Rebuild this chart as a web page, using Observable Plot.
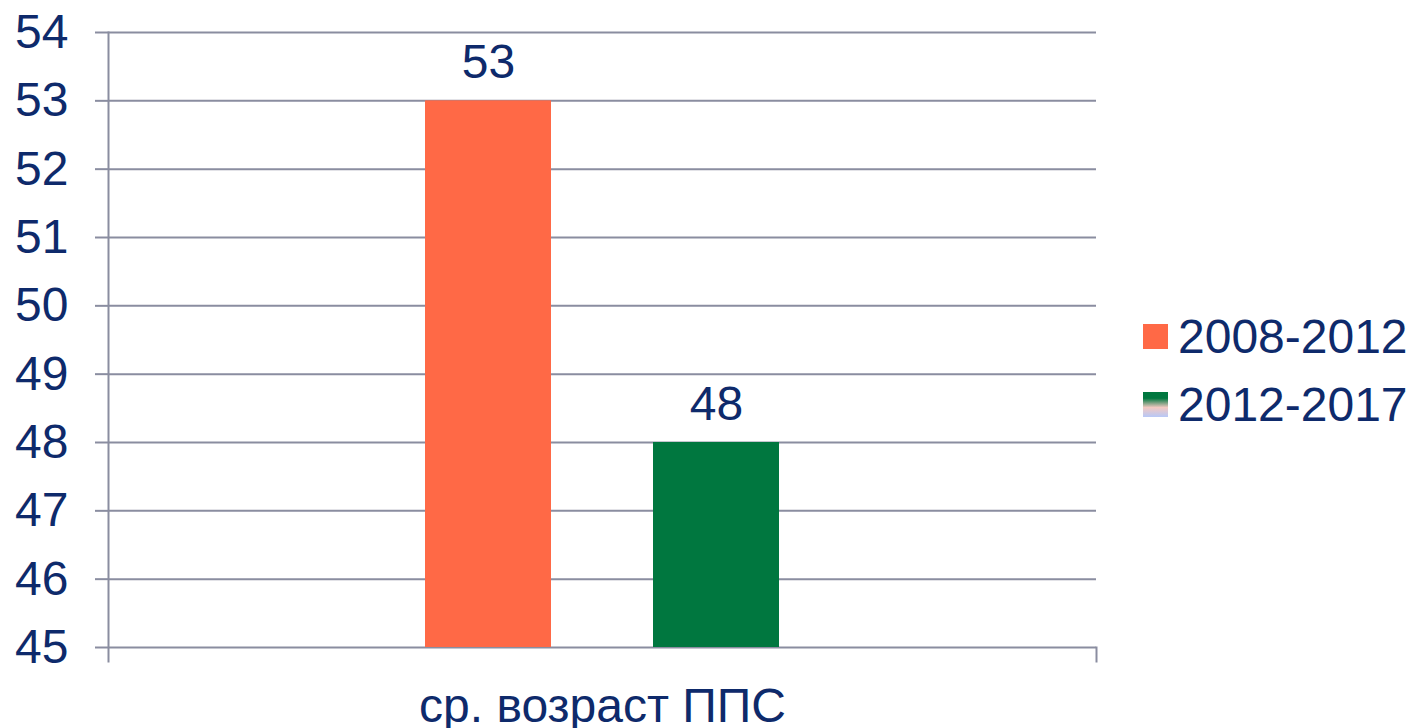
<!DOCTYPE html>
<html>
<head>
<meta charset="utf-8">
<script src="https://cdn.jsdelivr.net/npm/d3@7"></script>
<script src="https://cdn.jsdelivr.net/npm/@observablehq/plot@0.6"></script>
<style>
  html, body { margin: 0; padding: 0; background: #fff; }
  #wrap { position: relative; width: 1411px; height: 728px; overflow: hidden; font-family: "Liberation Sans", Arial, sans-serif; }
  #legend { position: absolute; left: 1143px; top: 308px; color: #0E2A6B; font-size: 48px; }
  .row { display: flex; align-items: center; height: 56px; margin-bottom: 12px; }
  .sw { width: 25px; height: 25px; margin-right: 10px; flex: none; }
</style>
</head>
<body>
<div id="wrap"><div id="chart"></div><div id="legend"></div></div>
<script>
const category = ["ср. возраст ППС"];
const series = ["2008-2012", "2012-2017"];
const values = [53, 48];
const colors = ["#FF6946", "#00773F"];
const yDomain = [45, 54];
const yTicks = [45, 46, 47, 48, 49, 50, 51, 52, 53, 54];

const data = series.map((s, i) => ({ category: category[0], series: s, value: values[i] }));

const navy = "#0E2A6B";
const gray = "#8A8DA0";

const chart = Plot.plot({
  width: 1411,
  height: 728,
  marginLeft: 108,
  marginRight: 315,
  marginTop: 32,
  marginBottom: 81,
  style: { fontFamily: "'Liberation Sans', Arial, sans-serif", fontSize: "48px", color: navy, background: "#fff" },
  fx: { domain: category, padding: 0, label: null },
  x: { domain: series, paddingInner: 0.4454, paddingOuter: 1.38, axis: null },
  y: { domain: yDomain, label: null },
  color: { domain: series, range: colors },
  marks: [
    Plot.gridY(yTicks, { stroke: gray, strokeOpacity: 1, strokeWidth: 2 }),
    Plot.axisY(yTicks, { tickSize: 13, tickPadding: 27, stroke: gray, strokeWidth: 2, label: null, fontSize: 48, tickFormat: d => String(d) }),
    Plot.frame({ anchor: "left", stroke: gray, strokeWidth: 2, insetBottom: -14 }),
    Plot.frame({ anchor: "right", stroke: gray, strokeWidth: 2, insetTop: 615, insetBottom: -14 }),
    Plot.barY(data, { fx: "category", x: "series", y1: yDomain[0], y2: "value", fill: "series" }),
    Plot.text(data, { fx: "category", x: "series", y: "value", text: d => String(d.value), lineAnchor: "bottom", dy: -23, fontSize: 48, fill: navy }),
    Plot.axisFx({ anchor: "bottom", tickSize: 0, tickPadding: 40, label: null, fontSize: 48 })
  ]
});
document.getElementById("chart").appendChild(chart);

const legend = document.getElementById("legend");
series.forEach((s, i) => {
  const row = document.createElement("div");
  row.className = "row";
  const sw = document.createElement("div");
  sw.className = "sw";
  sw.style.background = i === 1
    ? `linear-gradient(${colors[1]} 0%, ${colors[1]} 25%, #f3c9c2 62%, #b7c8f7 100%)`
    : colors[0];
  const t = document.createElement("span");
  t.textContent = s;
  row.appendChild(sw);
  row.appendChild(t);
  legend.appendChild(row);
});
</script>
</body>
</html>
